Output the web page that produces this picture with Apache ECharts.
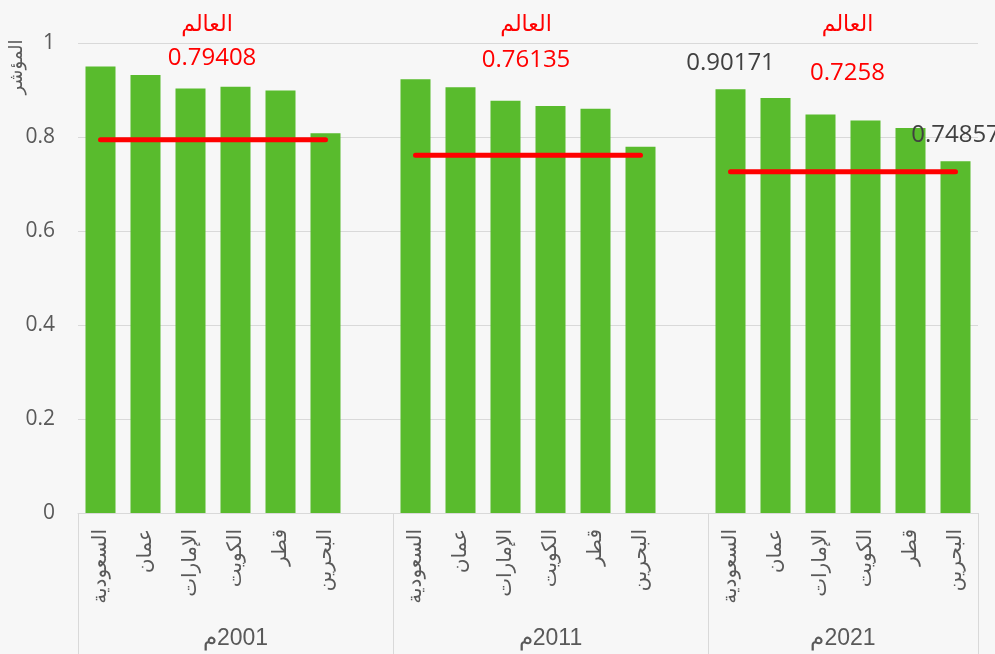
<!DOCTYPE html>
<html>
<head>
<meta charset="utf-8">
<script src="https://cdn.jsdelivr.net/npm/echarts@6/dist/echarts.min.js"></script>
<style>
  html, body { margin: 0; padding: 0; background: #f7f7f7; }
  #chart { width: 995px; height: 654px; }
</style>
</head>
<body>
<div id="chart"></div>
<script>
// data
const countries = ['السعودية', 'عمان', 'الإمارات', 'الكويت', 'قطر', 'البحرين']
const years = ['2001م', '2011م', '2021م']
const v2001 = [0.950, 0.932, 0.903, 0.907, 0.899, 0.808]
const v2011 = [0.923, 0.906, 0.877, 0.866, 0.860, 0.779]
const v2021 = [0.90171, 0.883, 0.848, 0.835, 0.819, 0.74857]
const world = [0.79408, 0.76135, 0.7258]
const worldName = 'العالم'
const yName = 'المؤشر'
const yTicks = [0, 0.2, 0.4, 0.6, 0.8, 1]
// bars that carry a value label: [group, country]
const labeledBars = [[2, 0], [2, 5]]

const groups = [v2001, v2011, v2021]

// flat category list: 6 countries + one blank slot between groups
const categories = []
const barData = []
const groupStart = []
groups.forEach((vals, g) => {
  groupStart.push(categories.length)
  vals.forEach((v, i) => {
    categories.push(countries[i])
    const lab = labeledBars.some(([lg, li]) => lg === g && li === i)
    barData.push(lab ? { value: v, label: { show: true } } : v)
  })
  if (g < groups.length - 1) {
    categories.push('')
    barData.push(null)
  }
})
const nCat = categories.length

// label layout for the world lines (style only)
const worldLabelStyle = [
  { at: 2, dx: 21.5, dy: -69, nameLH: 40, namePad: [0, 10, 0, 0] },
  { at: 2, dx: 20.5, dy: -82, nameLH: 44, namePad: [0, 0, 0, 0] },
  { at: 2, dx: 27, dy: -86, nameLH: 70, namePad: [0, 0, 0, 0] }
]

const worldSeries = world.map((w, g) => {
  const st = worldLabelStyle[g]
  const data = categories.map(() => null)
  for (let i = 0; i < groups[g].length; i++) {
    const idx = groupStart[g] + i
    data[idx] = i === st.at ? {
      value: w,
      label: {
        show: true,
        position: 'top',
        distance: 0,
        offset: [st.dx, st.dy],
        formatter: '{n|' + worldName + '}\n{v|' + w + '}',
        rich: {
          n: { fontSize: 22, color: '#ff0000', lineHeight: st.nameLH, padding: st.namePad, fontFamily: 'DejaVu Sans' },
          v: { fontSize: 24, color: '#ff0000', lineHeight: 26, fontFamily: 'Open Sans' }
        }
      }
    } : w
  }
  return {
    type: 'line',
    data,
    symbol: 'circle',
    symbolSize: 0,
    connectNulls: false,
    silent: true,
    lineStyle: { color: '#ff0000', width: 5, cap: 'round' },
    itemStyle: { color: '#ff0000' },
    z: 3
  }
})

// boundaries and centres for the second (year) axis level
const bounds = groupStart.concat([nCat])
const yearCentres = groups.map((vals, g) => (groupStart[g] + (g < groups.length - 1 ? bounds[g + 1] : nCat)) / 2)

const chart = echarts.init(document.getElementById('chart'))
chart.setOption({
  backgroundColor: '#f7f7f7',
  animation: false,
  grid: { left: 78, right: 17, top: 43, bottom: 141, containLabel: false, outerBoundsMode: 'none' },
  xAxis: [
    {
      type: 'category',
      data: categories,
      axisLine: { show: true, lineStyle: { color: '#d9d9d9', width: 1 } },
      axisTick: { show: false },
      axisLabel: {
        interval: 0,
        rotate: 90,
        margin: 16,
        fontSize: 20,
        color: '#595959',
        fontFamily: 'DejaVu Sans'
      }
    },
    {
      type: 'value',
      position: 'bottom',
      min: 0,
      max: nCat,
      axisLine: { show: false },
      splitLine: { show: false },
      axisTick: {
        show: true,
        inside: false,
        length: 145,
        customValues: bounds,
        lineStyle: { color: '#d9d9d9', width: 1 }
      },
      axisLabel: {
        customValues: yearCentres,
        // RLM so the year reads right-to-left as in the original
        formatter: v => '\u200F' + years[yearCentres.indexOf(v)],
        margin: 114,
        fontSize: 23,
        color: '#595959',
        fontFamily: 'Liberation Sans'
      }
    }
  ],
  yAxis: {
    type: 'value',
    min: yTicks[0],
    max: yTicks[yTicks.length - 1],
    interval: 0.2,
    name: yName,
    nameLocation: 'middle',
    nameRotate: 90,
    nameGap: 52,
    nameMoveOverlap: false,
    nameTextStyle: { fontSize: 18, color: '#595959', padding: [0, 0, 0, 422], fontFamily: 'DejaVu Sans' },
    axisLine: { show: false },
    axisTick: { show: false },
    splitLine: { lineStyle: { color: '#d9d9d9', width: 1 } },
    axisLabel: { fontSize: 21, color: '#595959', margin: 23, fontFamily: 'Open Sans' }
  },
  series: [
    {
      type: 'bar',
      data: barData,
      barWidth: 30,
      itemStyle: { color: '#59bb2d' },
      label: {
        show: false,
        position: 'top',
        distance: 14,
        fontSize: 24,
        color: '#404040',
        fontFamily: 'Open Sans'
      },
      z: 2
    }
  ].concat(worldSeries)
})
window.addEventListener('resize', () => chart.resize())
</script>
</body>
</html>
